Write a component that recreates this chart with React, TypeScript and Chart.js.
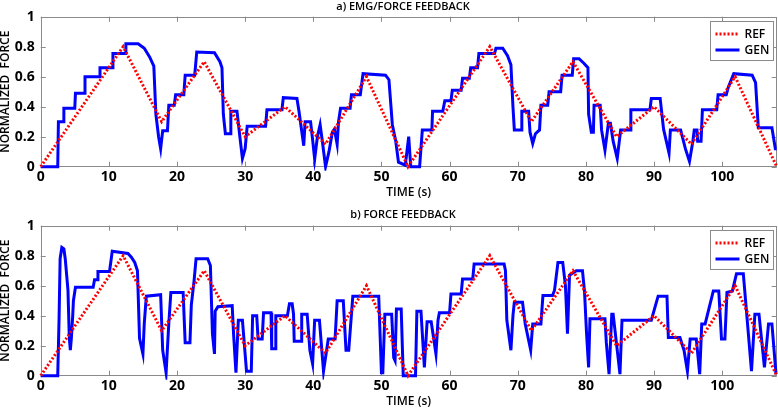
import React, { useEffect, useRef } from "react";
import { Chart, registerables } from "chart.js";

Chart.register(...registerables);
Chart.defaults.font.family = '"Open Sans", sans-serif';

const xTicks = [0, 10, 20, 30, 40, 50, 60, 70, 80, 90, 100];
const yTicks = [0, 0.2, 0.4, 0.6, 0.8, 1];
const xMax = 108;
const titleA = "a) EMG/FORCE FEEDBACK";
const titleB = "b) FORCE FEEDBACK";
const xLabel = "TIME (s)";
const yLabel = "NORMALIZED  FORCE";
const seriesNames = ["REF", "GEN"];

// reference trajectory [time s, normalized force]
const refTrace: [number, number][] = [
  [0, 0], [12.1, 0.8], [17.75, 0.3], [24, 0.7], [30, 0.2], [35.85, 0.4], [41.8, 0.15],
  [47.8, 0.6], [53.9, 0], [65.9, 0.8], [72, 0.3], [78.1, 0.7], [84.5, 0.2], [90, 0.4],
  [95.5, 0.15], [101.9, 0.6], [108, 0],
];

// generated force, EMG/force feedback
const genATrace: [number, number][] = [
  [0, 0], [2.5, 0], [2.6, 0.3], [3.3, 0.3], [3.4, 0.39], [5.0, 0.39], [5.1, 0.49], [6.4, 0.49],
  [6.5, 0.6], [8.6, 0.6], [8.7, 0.66], [10.5, 0.66], [10.6, 0.755], [12.4, 0.755], [12.5, 0.82],
  [14.3, 0.82], [15.2, 0.79], [16.0, 0.73], [16.6, 0.67], [16.9, 0.35], [17.3, 0.2], [17.6, 0.12],
  [17.9, 0.24], [18.6, 0.24], [18.8, 0.41], [19.6, 0.41], [19.8, 0.48], [21.0, 0.48], [21.2, 0.61],
  [22.6, 0.61], [22.9, 0.765], [25.5, 0.76], [26.3, 0.7], [26.6, 0.66], [26.8, 0.35], [27.1, 0.22],
  [27.8, 0.22], [27.9, 0.37], [28.8, 0.37], [29.3, 0.17], [29.6, 0.055], [30.0, 0.12], [30.3, 0.27],
  [33.0, 0.27], [33.2, 0.38], [35.4, 0.38], [35.6, 0.46], [37.6, 0.455], [37.9, 0.37], [38.2, 0.27],
  [38.6, 0.14], [38.8, 0.3], [39.6, 0.3], [39.9, 0.18], [40.2, 0.05], [40.6, 0.2], [41.0, 0.28],
  [41.3, 0.18], [41.8, 0], [42.3, 0.1], [42.8, 0.23], [43.1, 0.25], [43.5, 0.15], [43.7, 0.3],
  [44.0, 0.39], [45.4, 0.39], [45.6, 0.48], [46.9, 0.48], [47.3, 0.62], [50.6, 0.61], [51.1, 0.58],
  [51.6, 0.28], [52.1, 0.17], [52.5, 0.03], [53.5, 0.01], [54.0, 0.2], [54.3, 0], [55.6, 0],
  [56.0, 0.245], [57.4, 0.245], [57.5, 0.37], [59.0, 0.37], [59.3, 0.44], [60.2, 0.44], [60.4, 0.51],
  [61.7, 0.51], [61.9, 0.59], [62.9, 0.59], [63.1, 0.66], [64.1, 0.66], [64.3, 0.755], [66.6, 0.755],
  [66.8, 0.79], [67.8, 0.79], [68.5, 0.74], [69.0, 0.68], [69.3, 0.4], [69.5, 0.245], [70.5, 0.245],
  [70.6, 0.37], [71.6, 0.37], [71.8, 0.23], [72.2, 0.155], [72.6, 0.22], [73.2, 0.245], [73.4, 0.41],
  [74.4, 0.41], [74.6, 0.5], [76.3, 0.5], [76.5, 0.61], [78.0, 0.61], [78.2, 0.72], [79.0, 0.72],
  [79.7, 0.69], [80.3, 0.66], [80.4, 0.35], [80.8, 0.23], [81.1, 0.23], [81.2, 0.41], [82.1, 0.41],
  [82.3, 0.245], [82.8, 0.11], [83.3, 0.29], [83.6, 0.29], [84.0, 0.17], [84.6, 0.055], [85.1, 0.245],
  [86.5, 0.245], [86.6, 0.38], [89.4, 0.38], [89.6, 0.455], [90.9, 0.455], [91.4, 0.25], [91.8, 0.17],
  [92.2, 0.09], [92.4, 0.245], [93.9, 0.245], [94.6, 0.12], [95.2, 0.035], [95.7, 0.17], [95.9, 0.245],
  [96.3, 0.245], [96.4, 0.17], [96.9, 0.17], [97.1, 0.38], [99.2, 0.38], [99.4, 0.48], [100.6, 0.48],
  [100.9, 0.53], [101.7, 0.62], [104.4, 0.61], [104.9, 0.56], [105.3, 0.26], [107.3, 0.26],
  [107.8, 0.12], [108, 0.12],
];

// generated force, force feedback only
const genBTrace: [number, number][] = [
  [0, 0], [2.5, 0], [2.7, 0.39], [2.85, 0.78], [3.1, 0.855], [3.4, 0.845], [3.6, 0.78], [4.0, 0.57],
  [4.2, 0.25], [4.35, 0.17], [4.5, 0.25], [4.7, 0.4], [4.8, 0.5], [5.1, 0.59], [7.7, 0.59], [7.9, 0.64],
  [8.3, 0.64], [8.4, 0.695], [10.1, 0.695], [10.5, 0.83], [12.8, 0.815], [13.3, 0.79], [13.8, 0.755],
  [14.2, 0.7], [14.5, 0.25], [15.0, 0.145], [15.2, 0.35], [15.5, 0.53], [17.6, 0.54], [17.9, 0.17],
  [18.4, 0.02], [18.8, 0.35], [19.1, 0.555], [20.9, 0.555], [21.2, 0.22], [21.9, 0.22], [22.1, 0.47],
  [22.5, 0.63], [22.8, 0.78], [24.5, 0.78], [24.9, 0.735], [25.2, 0.28], [25.5, 0.145], [25.6, 0.43],
  [26.0, 0.46], [28.1, 0.467], [28.3, 0.28], [28.65, 0.02], [29.0, 0.37], [29.6, 0.37], [30.2, 0.03],
  [30.9, 0.03], [31.1, 0.4], [31.7, 0.4], [31.9, 0.245], [32.5, 0.245], [32.7, 0.42], [33.8, 0.42],
  [33.9, 0.18], [34.4, 0.18], [34.5, 0.4], [36.2, 0.4], [36.5, 0.48], [36.9, 0.48], [37.1, 0.41],
  [37.2, 0.23], [38.2, 0.23], [38.3, 0.41], [39.1, 0.41], [39.5, 0.17], [39.9, 0.08], [40.2, 0.37],
  [40.9, 0.37], [41.5, 0.03], [42.2, 0.245], [43.2, 0.245], [43.5, 0.5], [44.4, 0.5], [44.8, 0.17],
  [45.2, 0.17], [45.8, 0.53], [49.6, 0.53], [50.0, 0.02], [50.2, 0.02], [50.5, 0.41], [51.5, 0.41],
  [51.8, 0.12], [52.0, 0.1], [52.2, 0.445], [52.9, 0.445], [53.2, 0], [55.0, 0], [55.2, 0.43],
  [55.8, 0.43], [56.3, 0.055], [56.7, 0.36], [57.3, 0.36], [58.0, 0.145], [58.3, 0.37], [58.5, 0.42],
  [60.0, 0.42], [60.2, 0.545], [61.7, 0.545], [61.9, 0.645], [63.4, 0.645], [63.6, 0.745], [68.0, 0.745],
  [68.2, 0.7], [68.4, 0.37], [69.0, 0.17], [69.3, 0.4], [69.5, 0.49], [70.7, 0.49], [71.1, 0.345],
  [71.9, 0.17], [72.2, 0.345], [73.4, 0.345], [73.7, 0.535], [75.1, 0.535], [75.4, 0.57], [75.9, 0.755],
  [76.6, 0.755], [77.0, 0.6], [77.3, 0.28], [77.6, 0.67], [78.6, 0.7], [79.5, 0.7], [79.8, 0.56],
  [80.1, 0.28], [80.4, 0.055], [80.6, 0.38], [82.8, 0.38], [83.0, 0.22], [83.4, 0.01], [83.8, 0.41],
  [84.0, 0.41], [85.0, 0.01], [85.3, 0.37], [89.6, 0.37], [90.6, 0.53], [91.9, 0.53], [92.1, 0.255],
  [93.8, 0.255], [94.4, 0.17], [94.9, 0.03], [95.3, 0.245], [96.2, 0.245], [96.7, 0.01], [97.0, 0.345],
  [97.5, 0.345], [98.7, 0.565], [99.5, 0.565], [99.9, 0.245], [100.4, 0.245], [100.7, 0.555],
  [101.5, 0.565], [102.1, 0.68], [103.1, 0.68], [103.6, 0.41], [104.3, 0.03], [104.8, 0.41],
  [105.4, 0.41], [106.2, 0.055], [106.8, 0.345], [107.3, 0.345], [107.9, 0.01], [108, 0.01],
];

const RED = "#ff0000";
const BLUE = "#0000ff";
const FRAME = "#8a8a8a";

const framePlugin = {
  id: "frame",
  beforeDatasetsDraw(chart: any) {
    const { ctx, chartArea: a, scales } = chart;
    ctx.save();
    ctx.strokeStyle = FRAME;
    ctx.lineWidth = 1;
    ctx.strokeRect(Math.round(a.left) + 0.5, Math.round(a.top) + 0.5, Math.round(a.width) - 1, Math.round(a.height) - 1);
    const L = 5;
    ctx.beginPath();
    xTicks.forEach((v) => {
      const x = Math.round(scales.x.getPixelForValue(v)) + 0.5;
      ctx.moveTo(x, a.bottom);
      ctx.lineTo(x, a.bottom - L);
      ctx.moveTo(x, a.top);
      ctx.lineTo(x, a.top + L);
    });
    yTicks.forEach((v) => {
      const y = Math.round(scales.y.getPixelForValue(v)) + 0.5;
      ctx.moveTo(a.left, y);
      ctx.lineTo(a.left + L, y);
      ctx.moveTo(a.right, y);
      ctx.lineTo(a.right - L, y);
    });
    ctx.stroke();
    ctx.restore();
  },
  afterDraw(chart: any, _args: any, opts: any) {
    const { ctx, chartArea: a } = chart;
    ctx.save();
    // title
    ctx.fillStyle = "#000";
    ctx.font = '600 11px "Open Sans", sans-serif';
    ctx.textAlign = "center";
    ctx.textBaseline = "middle";
    ctx.fillText(opts.title, 403, opts.titleY);
    // legend
    const bx = Math.round(a.right - 66.5) + 0.5;
    const by = Math.round(a.top + 3.8) + 0.5;
    const bw = 63;
    const bh = 39;
    ctx.fillStyle = "#fff";
    ctx.fillRect(bx, by, bw, bh);
    ctx.strokeStyle = FRAME;
    ctx.lineWidth = 1;
    ctx.strokeRect(bx, by, bw, bh);
    const rows = [
      { name: seriesNames[0], color: RED, dash: [2, 2], y: by + 12.5 },
      { name: seriesNames[1], color: BLUE, dash: [], y: by + 28.5 },
    ];
    rows.forEach((r) => {
      ctx.beginPath();
      ctx.setLineDash(r.dash);
      ctx.strokeStyle = r.color;
      ctx.lineWidth = 3;
      ctx.moveTo(bx + 5, r.y);
      ctx.lineTo(bx + 29, r.y);
      ctx.stroke();
      ctx.setLineDash([]);
      ctx.fillStyle = "#000";
      ctx.font = '600 12px "Open Sans", sans-serif';
      ctx.textAlign = "left";
      ctx.textBaseline = "middle";
      ctx.fillText(r.name, bx + 34, r.y + 0.5);
    });
    ctx.restore();
  },
};

function toPoints(trace: [number, number][]) {
  return trace.map(([x, y]) => ({ x, y }));
}

function makeConfig(gen: [number, number][], title: string, titleY: number, padTop: number, padBottom: number, xAxisH: number) {
  return {
    type: "line" as const,
    data: {
      datasets: [
        {
          label: seriesNames[0],
          data: toPoints(refTrace),
          borderColor: RED,
          backgroundColor: RED,
          borderWidth: 3,
          borderDash: [2, 2],
          pointRadius: 0,
          tension: 0,
          fill: false,
          clip: 4,
          order: 0,
        },
        {
          label: seriesNames[1],
          data: toPoints(gen),
          borderColor: BLUE,
          backgroundColor: BLUE,
          borderWidth: 3,
          pointRadius: 0,
          tension: 0,
          fill: false,
          clip: 4,
          order: 1,
        },
      ],
    },
    options: {
      animation: false,
      responsive: false,
      devicePixelRatio: 1,
      events: [],
      layout: { padding: { top: padTop, bottom: padBottom, left: 0, right: 1.3 } },
      plugins: {
        legend: { display: false },
        tooltip: { enabled: false },
        title: { display: false },
        frame: { title, titleY },
      },
      scales: {
        x: {
          type: "linear",
          min: 0,
          max: xMax,
          afterBuildTicks: (s: any) => {
            s.ticks = xTicks.map((v) => ({ value: v }));
          },
          afterFit: (s: any) => {
            s.height = xAxisH;
          },
          grid: { display: false, drawTicks: false },
          border: { display: false },
          ticks: {
            autoSkip: false,
            maxRotation: 0,
            padding: 2,
            color: "#000",
            font: { size: 14, weight: "bold" },
            callback: (v: any) => String(v),
          },
          title: {
            display: true,
            text: xLabel,
            color: "#000",
            padding: 0,
            font: { size: 12, lineHeight: 1, weight: "600" },
          },
        },
        y: {
          type: "linear",
          min: 0,
          max: 1,
          afterBuildTicks: (s: any) => {
            s.ticks = yTicks.map((v) => ({ value: v }));
          },
          afterFit: (s: any) => {
            s.width = 40.7;
          },
          grid: { display: false, drawTicks: false },
          border: { display: false },
          ticks: {
            padding: 6,
            color: "#000",
            font: { size: 14, weight: "bold" },
            callback: (v: any) => String(v),
          },
          title: {
            display: true,
            text: yLabel,
            color: "#000",
            padding: 0,
            font: { size: 12, lineHeight: 1, weight: "600" },
          },
        },
      },
    },
    plugins: [framePlugin],
  };
}

function Panel({ gen, title, titleY, top, height, padTop, padBottom, xAxisH }: any) {
  const ref = useRef<HTMLCanvasElement | null>(null);
  useEffect(() => {
    if (!ref.current) return;
    const chart = new Chart(ref.current, makeConfig(gen, title, titleY, padTop, padBottom, xAxisH) as any);
    return () => chart.destroy();
  }, []);
  return (
    <canvas
      ref={ref}
      width={778}
      height={height}
      style={{ position: "absolute", left: 0, top, width: 778, height, display: "block" }}
    />
  );
}

export default function App() {
  return (
    <div style={{ position: "fixed", left: 0, top: 0, width: 778, height: 408, background: "#fff", overflow: "hidden" }}>
      <Panel gen={genATrace} title={titleA} titleY={7} top={0} height={200} padTop={16.7} padBottom={1.7} xAxisH={31.6} />
      <Panel gen={genBTrace} title={titleB} titleY={15} top={200} height={208} padTop={25.7} padBottom={0} xAxisH={32.3} />
    </div>
  );
}
